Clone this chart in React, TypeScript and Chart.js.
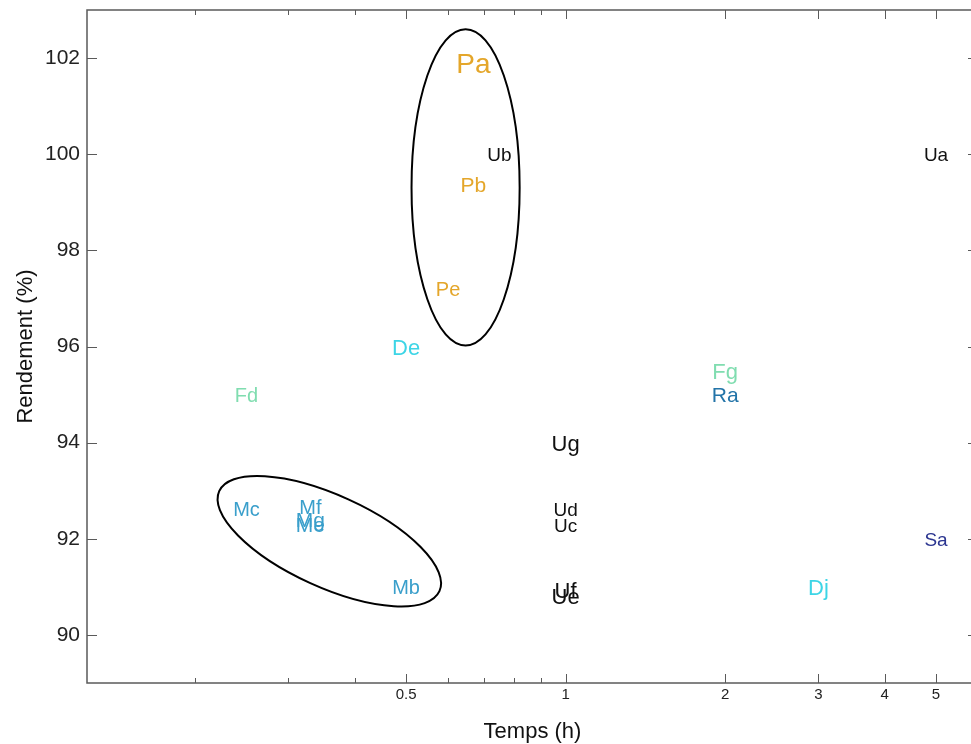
import React, { useEffect, useRef } from 'react';
import { Chart, registerables } from 'chart.js';
Chart.register(...registerables);

// ---- data ----
const pointLabels = ['Pa', 'Ub', 'Pb', 'Pe', 'De', 'Fd', 'Fg', 'Ra', 'Ua', 'Ug', 'Ud', 'Uc', 'Uf', 'Ue', 'Mc', 'Mf', 'Mg', 'Me', 'Mb', 'Sa', 'Dj'];
const timeH = [0.67, 0.75, 0.67, 0.6, 0.5, 0.25, 2, 2, 5, 1, 1, 1, 1, 1, 0.25, 0.33, 0.33, 0.33, 0.5, 5, 3];
const yieldPct = [101.9, 100, 99.37, 97.2, 96, 95, 95.5, 95, 100, 94, 92.63, 92.3, 90.94, 90.81, 92.63, 92.67, 92.4, 92.3, 91, 92, 91];

const xTickValues = [0.2, 0.3, 0.4, 0.5, 0.6, 0.7, 0.8, 0.9, 1, 2, 3, 4, 5];
const xTickLabels = [0.5, 1, 2, 3, 4, 5];
const yTickValues = [90, 92, 94, 96, 98, 100, 102];

// ---- styles ----
const fontSizes = [28, 19, 21, 20, 22, 20, 22, 21, 19, 22, 19, 19, 22, 22, 20, 20, 21, 21, 20, 19, 22];
const groupColors: Record<string, string> = {
  P: '#E4A62A',
  U: '#111111',
  D: '#3DD5E6',
  F: '#80DDB0',
  M: '#3A9FCB',
  R: '#2374A8',
  S: '#2B3590',
};

// annotations (ellipses) in data space
const ellipse1 = { xMin: 0.512, xMax: 0.819, yMin: 96.02, yMax: 102.6 };
const ellipse2 = { x1: 0.222, y1: 92.99, x2: 0.578, y2: 90.91, minorPx: 46 };

const FAMILY = '"Liberation Sans", Arial, Helvetica, sans-serif';
const TEXT_DY = 2;

const decoPlugin = {
  id: 'deco',
  afterDatasetsDraw(chart: any) {
    const { ctx, chartArea: a, scales } = chart;
    const x = scales.x;
    const y = scales.y;
    ctx.save();

    // text markers
    ctx.textAlign = 'center';
    ctx.textBaseline = 'middle';
    pointLabels.forEach((t, i) => {
      const px = x.getPixelForValue(timeH[i]);
      const py = y.getPixelForValue(yieldPct[i]);
      ctx.font = `${fontSizes[i]}px ${FAMILY}`;
      ctx.fillStyle = groupColors[t[0]] || '#000';
      ctx.fillText(t, px, py + TEXT_DY);
    });

    // ellipses
    ctx.strokeStyle = '#000';
    ctx.lineWidth = 2;
    {
      const l = x.getPixelForValue(ellipse1.xMin);
      const r = x.getPixelForValue(ellipse1.xMax);
      const t = y.getPixelForValue(ellipse1.yMax);
      const b = y.getPixelForValue(ellipse1.yMin);
      ctx.beginPath();
      ctx.ellipse((l + r) / 2, (t + b) / 2, (r - l) / 2, (b - t) / 2, 0, 0, Math.PI * 2);
      ctx.stroke();
    }
    {
      const p1x = x.getPixelForValue(ellipse2.x1);
      const p1y = y.getPixelForValue(ellipse2.y1);
      const p2x = x.getPixelForValue(ellipse2.x2);
      const p2y = y.getPixelForValue(ellipse2.y2);
      const cx = (p1x + p2x) / 2;
      const cy = (p1y + p2y) / 2;
      const major = Math.hypot(p2x - p1x, p2y - p1y) / 2;
      const rot = Math.atan2(p2y - p1y, p2x - p1x);
      ctx.beginPath();
      ctx.ellipse(cx, cy, major, ellipse2.minorPx, rot, 0, Math.PI * 2);
      ctx.stroke();
    }

    // frame
    ctx.strokeStyle = '#5a5a5a';
    ctx.lineWidth = 1.5;
    ctx.strokeRect(a.left, a.top, a.right - a.left, a.bottom - a.top);

    // ticks
    ctx.lineWidth = 1;
    ctx.beginPath();
    xTickValues.forEach((v) => {
      const px = Math.round(x.getPixelForValue(v)) + 0.5;
      const len = xTickLabels.includes(v) ? 9 : 5;
      ctx.moveTo(px, a.bottom);
      ctx.lineTo(px, a.bottom - len);
      ctx.moveTo(px, a.top);
      ctx.lineTo(px, a.top + len);
    });
    yTickValues.forEach((v) => {
      const py = Math.round(y.getPixelForValue(v)) + 0.5;
      ctx.moveTo(a.left, py);
      ctx.lineTo(a.left + 10, py);
      ctx.moveTo(a.right, py);
      ctx.lineTo(a.right - 10, py);
    });
    ctx.stroke();

    ctx.restore();
  },
};

export default function App() {
  const ref = useRef<HTMLCanvasElement>(null);

  useEffect(() => {
    if (!ref.current) return;
    const chart = new Chart(ref.current, {
      type: 'scatter',
      data: {
        datasets: [
          {
            label: 'points',
            data: timeH.map((t, i) => ({ x: t, y: yieldPct[i] })),
            pointRadius: 0,
            pointHoverRadius: 0,
            showLine: false,
          },
        ],
      },
      options: {
        responsive: false,
        animation: false,
        devicePixelRatio: 1,
        events: [],
        layout: { padding: { top: 10, right: 2, left: 0, bottom: 0 } },
        plugins: {
          legend: { display: false },
          tooltip: { enabled: false },
        },
        scales: {
          x: {
            type: 'logarithmic',
            min: 0.125,
            max: 6,
            afterBuildTicks: (s: any) => {
              s.ticks = xTickValues.map((v) => ({ value: v }));
            },
            afterFit: (s: any) => {
              s.height = 61;
              s.paddingLeft = 0;
              s.paddingRight = 0;
            },
            grid: { display: false },
            border: { display: false },
            ticks: {
              autoSkip: false,
              maxRotation: 0,
              padding: -5,
              color: '#222',
              font: { size: 15, family: FAMILY },
              callback: (v: any) => (xTickLabels.includes(Number(v)) ? String(v) : ''),
            },
            title: {
              display: true,
              text: 'Temps (h)',
              color: '#111',
              font: { size: 22, family: FAMILY },
              padding: { top: 0, bottom: -1 },
            },
          },
          y: {
            type: 'linear',
            min: 89,
            max: 103,
            afterBuildTicks: (s: any) => {
              s.ticks = yTickValues.map((v) => ({ value: v }));
            },
            afterFit: (s: any) => {
              s.width = 87;
              s.paddingTop = 0;
              s.paddingBottom = 0;
            },
            grid: { display: false },
            border: { display: false },
            ticks: {
              padding: -1,
              color: '#222',
              font: { size: 21, family: FAMILY },
            },
            title: {
              display: true,
              text: 'Rendement (%)',
              color: '#111',
              font: { size: 22, family: FAMILY },
              padding: { top: 13, bottom: 0 },
            },
          },
        },
      },
      plugins: [decoPlugin],
    } as any);
    return () => chart.destroy();
  }, []);

  return (
    <div
      style={{
        position: 'absolute',
        left: 0,
        top: 0,
        width: 971,
        height: 744,
        overflow: 'hidden',
        background: '#fff',
      }}
    >
      <canvas ref={ref} width={980} height={744} style={{ display: 'block', width: 980, height: 744 }} />
    </div>
  );
}
